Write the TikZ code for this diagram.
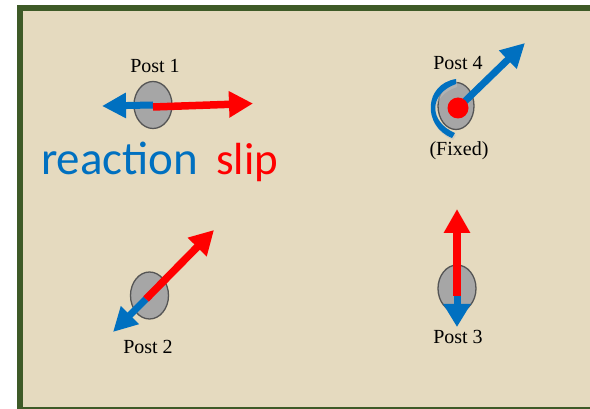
\documentclass[tikz,border=0pt]{standalone}
\usepackage{fontspec}
\setmainfont{Liberation Serif}
\newfontfamily\calib{Carlito}
\usetikzlibrary{arrows.meta,shapes.geometric}
\definecolor{frameg}{HTML}{3E5A27}
\definecolor{bgbeige}{HTML}{E5DABF}
\definecolor{myblue}{HTML}{0070C0}
\definecolor{myred}{HTML}{FF0000}
\definecolor{postgray}{HTML}{A6A6A6}
\definecolor{postedge}{HTML}{555555}
\tikzset{
  post/.style={ellipse, draw=postedge, fill=postgray, line width=1.3pt, minimum width=38pt, minimum height=47pt, inner sep=0pt},
  postlabel/.style={font=\fontsize{20}{20}\selectfont, inner sep=0pt},
  bluearrow/.style={draw=myblue, line width=7pt, -{Triangle[length=24pt,width=24pt,fill=myblue]}},
  redarrow/.style={draw=myred, line width=7.5pt, -{Triangle[length=24pt,width=25pt,fill=myred]}},
  bigword/.style={font=\calib\fontsize{47}{47}\selectfont, inner sep=0pt, anchor=base west},
}
\begin{document}
\begin{tikzpicture}[x=1pt,y=-1pt]
\useasboundingbox (0,0) rectangle (590,409);
\clip (0,0) rectangle (590,409);
\fill[white] (0,0) rectangle (590,409);
\draw[frameg, fill=bgbeige, line width=6pt] (20,8.5) rectangle (600,409.5);

% Post 1
\node[post] (p1) at (153,105) {};
\node[postlabel] (l1) at (155,66) {Post 1};
\coordinate (p1b) at (102,106);
\coordinate (p1r) at (253,103.5);
\coordinate (p1c) at (153,107);
\draw[bluearrow] (p1.center) -- (p1b);
\draw[redarrow] (p1c) -- (p1r);
\node[bigword, text=myblue] (react) at (41,175) {reaction};
\node[bigword, text=myred, font=\calib\fontsize{45}{45}\selectfont] (slip) at (216,175) {slip};

% Post 4
\node[post, minimum width=36pt] (p4) at (456,106) {};
\node[postlabel] (l4) at (458,63) {Post 4};
\node[postlabel] (f4) at (459,151) {(Fixed)};
\coordinate (p4t) at (525,43);
\coordinate (p4c) at (458,108);
\draw[bluearrow] (p4c) -- (p4t);
\fill[myred] (p4c) circle (10.5pt);
\fill[black!25, opacity=0.5] (457,81) .. controls (425,86) and (423,128) .. (453,140)
  -- (456,135) .. controls (430,124) and (429,96) .. (457,87) -- cycle;
\fill[myblue] (456,79) .. controls (424,84) and (422,126) .. (452,138)
  -- (455,133) .. controls (429,122) and (428,94) .. (456,84) -- cycle;

% Post 2
\node[post] (p2) at (149.5,295.5) {};
\node[postlabel] (l2) at (148,347) {Post 2};
\coordinate (p2c) at (146,299);
\coordinate (p2b) at (113,332);
\coordinate (p2r) at (214,230);
\draw[bluearrow] (p2c) -- (p2b);
\draw[redarrow] (p2c) -- (p2r);

% Post 3
\node[post] (p3) at (457,288.5) {};
\node[postlabel] (l3) at (458,337) {Post 3};
\coordinate (p3c) at (457,296);
\coordinate (p3b) at (457,327);
\coordinate (p3r) at (457,209);
\draw[bluearrow, -{Triangle[length=23pt,width=26pt,fill=myblue]}] (p3c) -- (p3b);
\draw[redarrow] (p3c) -- (p3r);
\end{tikzpicture}
\end{document}
